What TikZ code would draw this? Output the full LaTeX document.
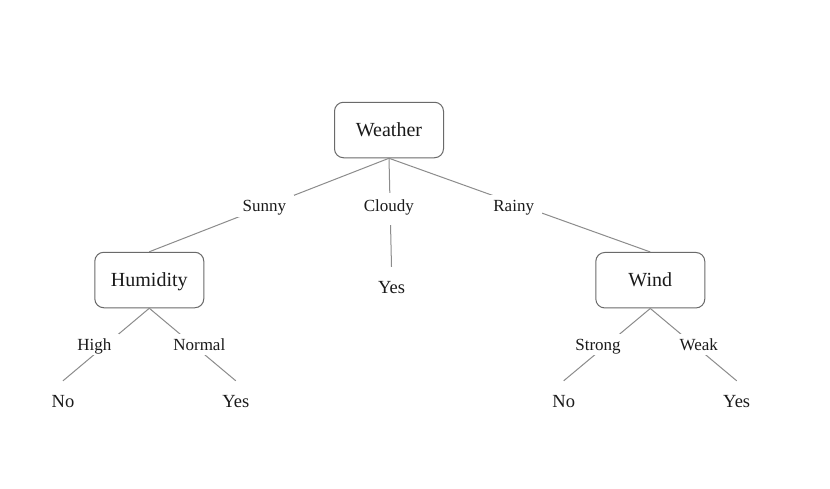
\documentclass[tikz,border=0pt]{standalone}
\usepackage{fontspec}
\setmainfont{Liberation Serif}
\definecolor{boxline}{HTML}{6A6A6A}
\definecolor{edgeline}{HTML}{8C8C8C}
\definecolor{txt}{HTML}{1A1A1A}
\begin{document}
\begin{tikzpicture}[x=1pt,y=-1pt,
  box/.style={draw=boxline, line width=1pt, rounded corners=9pt,
    minimum width=109pt, minimum height=55.5pt, text height=13.5pt,
    text depth=0pt, inner sep=0pt, font=\fontsize{20}{24}\selectfont, text=txt},
  leaf/.style={inner xsep=0pt, inner ysep=13pt, text height=13pt, text depth=0pt,
    anchor=base, font=\fontsize{18.5}{22}\selectfont, text=txt},
  lbl/.style={fill=white, inner xsep=8pt, inner ysep=5pt, text height=11.3pt,
    text depth=0pt, anchor=base, font=\fontsize{17}{20}\selectfont, text=txt},
  edge/.style={draw=edgeline, line width=1pt}]
\useasboundingbox[fill=white] (0,0) rectangle (830,488);
% decision nodes
\node[box] (weather) at (389,130) {Weather};
\node[box] (humidity) at (149.3,280) {Humidity};
\node[box] (wind) at (650.3,280.2) {Wind};
% leaves
\node[leaf] (yes0) at (391.5,293) {Yes};
\node[leaf] (no1) at (63,407) {No};
\node[leaf] (yes1) at (235.8,407) {Yes};
\node[leaf] (no2) at (563.7,407) {No};
\node[leaf] (yes2) at (736.7,407) {Yes};
% connectors
\draw[edge] (weather.south) -- (humidity.north);
\draw[edge] (weather.south) -- (yes0.north);
\draw[edge] (weather.south) -- (wind.north);
\draw[edge] (humidity.south) -- (no1.north);
\draw[edge] (humidity.south) -- (yes1.north);
\draw[edge] (wind.south) -- (no2.north);
\draw[edge] (wind.south) -- (yes2.north);
% branch labels
\node[lbl] (sunny) at (264.3,211.7) {Sunny};
\node[lbl, text depth=8pt, text height=13.3pt] (cloudy) at (388.8,211.7) {Cloudy};
\node[lbl] (rainy) at (513.7,211.7) {Rainy};
\node[lbl] (high) at (94.4,350) {High};
\node[lbl] (normal) at (199.3,350) {Normal};
\node[lbl] (strong) at (598,350) {Strong};
\node[lbl] (weak) at (698.8,350) {Weak};
\end{tikzpicture}
\end{document}
